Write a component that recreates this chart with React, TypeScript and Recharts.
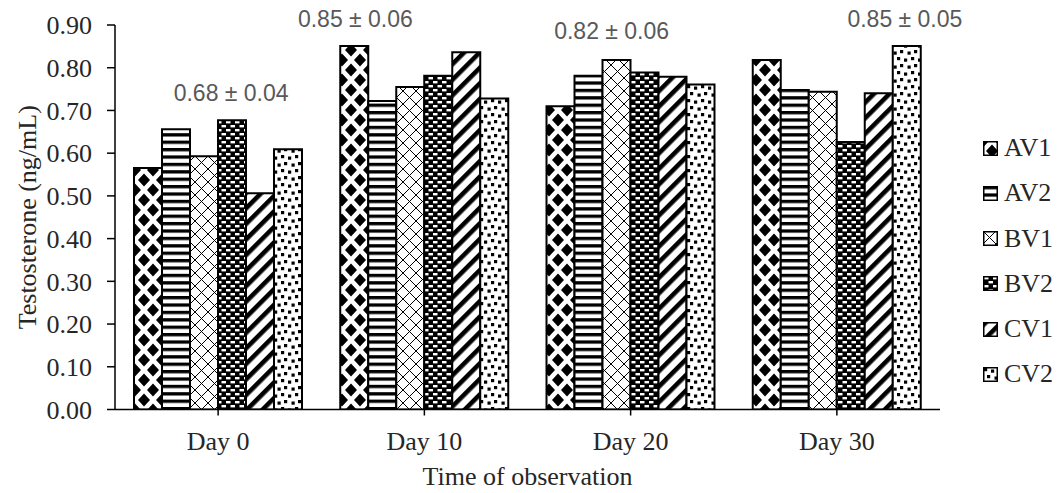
import React from 'react';
import { BarChart, Bar, XAxis, YAxis, Legend, ReferenceDot, Label } from 'recharts';

// ---------- data ----------
const categories = ['Day 0', 'Day 10', 'Day 20', 'Day 30'];
const seriesNames = ['AV1', 'AV2', 'BV1', 'BV2', 'CV1', 'CV2'];
const av1 = [0.565, 0.851, 0.71, 0.818];
const av2 = [0.656, 0.722, 0.781, 0.748];
const bv1 = [0.593, 0.755, 0.818, 0.744];
const bv2 = [0.677, 0.781, 0.789, 0.626];
const cv1 = [0.506, 0.836, 0.779, 0.74];
const cv2 = [0.609, 0.728, 0.761, 0.851];
const annotationTexts = ['0.68 ± 0.04', '0.85 ± 0.06', '0.82 ± 0.06', '0.85 ± 0.05'];
const annotationLevels = [0.741, 0.915, 0.886, 0.915];
const yTicks = [0, 0.1, 0.2, 0.3, 0.4, 0.5, 0.6, 0.7, 0.8, 0.9];
const xTitle = 'Time of observation';
const yTitle = 'Testosterone (ng/mL)';

const seriesValues = [av1, av2, bv1, bv2, cv1, cv2];
const data = categories.map((day, i) => {
  const row: Record<string, string | number> = { day };
  seriesNames.forEach((n, s) => {
    row[n] = seriesValues[s][i];
  });
  return row;
});

// ---------- styles ----------
const SERIF = "'Liberation Serif', 'Times New Roman', serif";
const SANS = "'Liberation Sans', Arial, sans-serif";
const TEXT = '#262626';
const patternIds = ['p-av1', 'p-av2', 'p-bv1', 'p-bv2', 'p-cv1', 'p-cv2'];
const annotationDx = [13, -69, -19, 68];

const Patterns = () => (
  <defs>
    <pattern id="p-av1" patternUnits="userSpaceOnUse" width={18} height={20}>
      <rect width={18} height={20} fill="#fff" />
      <path
        d="M9,3.5 L15,10 L9,16.5 L3,10 Z M0,-6.5 L6,0 L0,6.5 L-6,0 Z M18,-6.5 L24,0 L18,6.5 L12,0 Z M0,13.5 L6,20 L0,26.5 L-6,20 Z M18,13.5 L24,20 L18,26.5 L12,20 Z"
        fill="#000"
      />
    </pattern>
    <pattern id="p-av2" patternUnits="userSpaceOnUse" width={10} height={7.4}>
      <rect width={10} height={7.4} fill="#fff" />
      <rect y={0} width={10} height={3.3} fill="#000" />
    </pattern>
    <pattern id="p-bv1" patternUnits="userSpaceOnUse" width={13} height={13}>
      <rect width={13} height={13} fill="#fff" />
      <path d="M0,0 L13,13 M13,0 L0,13" stroke="#000" strokeWidth={1} />
    </pattern>
    <pattern id="p-bv2" patternUnits="userSpaceOnUse" width={9} height={8}>
      <rect width={9} height={8} fill="#000" />
      <rect x={1} y={1} width={4.5} height={2.4} fill="#fff" />
      <rect x={5.5} y={5} width={4.5} height={2.4} fill="#fff" />
      <rect x={-3.5} y={5} width={4.5} height={2.4} fill="#fff" />
    </pattern>
    <pattern id="p-cv1" patternUnits="userSpaceOnUse" width={11} height={11} patternTransform="rotate(45)">
      <rect width={11} height={11} fill="#fff" />
      <rect x={0} width={4.6} height={11} fill="#000" />
    </pattern>
    <pattern id="p-cv2" patternUnits="userSpaceOnUse" width={14} height={14}>
      <rect width={14} height={14} fill="#fff" />
      <rect x={1} y={1} width={3.2} height={3.2} fill="#000" />
      <rect x={8} y={2.5} width={3.2} height={3.2} fill="#000" />
      <rect x={4} y={8} width={3.2} height={3.2} fill="#000" />
      <rect x={11.5} y={9.5} width={3.2} height={3.2} fill="#000" />
      <rect x={-2.5} y={9.5} width={3.2} height={3.2} fill="#000" />
    </pattern>
  </defs>
);

const renderLegend = () => (
  <div style={{ fontFamily: SERIF, fontSize: 26, color: TEXT }}>
    {seriesNames.map((n, i) => (
      <div key={n} style={{ height: 45.25, display: 'flex', alignItems: 'center' }}>
        <svg width={15} height={15} style={{ marginRight: 6, flex: 'none' }}>
          <rect x={0.75} y={0.75} width={13.5} height={13.5} fill={`url(#${patternIds[i]})`} stroke="#000" strokeWidth={1.5} />
        </svg>
        <span style={{ lineHeight: 1 }}>{n}</span>
      </div>
    ))}
  </div>
);

const YTitle = (props: any) => {
  const vb = props.viewBox || { x: 0, y: 25, width: 115, height: 384.5 };
  const cx = vb.x + 27;
  const cy = vb.y + vb.height / 2;
  return (
    <text
      x={cx}
      y={cy}
      transform={`rotate(-90, ${cx}, ${cy})`}
      textAnchor="middle"
      dominantBaseline="central"
      fontFamily={SERIF}
      fontSize={26}
      fill={TEXT}
    >
      {yTitle}
    </text>
  );
};

const XTitle = (props: any) => {
  const vb = props.viewBox || { x: 115, y: 409.5, width: 825, height: 83.5 };
  return (
    <text
      x={vb.x + vb.width / 2}
      y={vb.y + 75.5}
      textAnchor="middle"
      fontFamily={SERIF}
      fontSize={26}
      fill={TEXT}
    >
      {xTitle}
    </text>
  );
};

export default function App() {
  return (
    <div style={{ position: 'absolute', left: 0, top: 0, width: 1060, height: 493, background: '#fff' }}>
      <BarChart
        width={1060}
        height={493}
        data={data}
        margin={{ top: 25, right: 120, left: 0, bottom: 0 }}
        barCategoryGap={19}
        barGap={0}
      >
        <Patterns />
        <XAxis
          dataKey="day"
          height={83.5}
          tickSize={6}
          tickMargin={16.5}
          tick={{ fontFamily: SERIF, fontSize: 26, fill: TEXT }}
          axisLine={{ stroke: '#000', strokeWidth: 1.5 }}
          tickLine={{ stroke: '#000', strokeWidth: 1.5 }}
        >
          <Label content={<XTitle />} />
        </XAxis>
        <YAxis
          type="number"
          domain={[0, 0.9]}
          ticks={yTicks}
          interval={0}
          allowDataOverflow
          width={115}
          tickSize={8}
          tickMargin={15}
          tickFormatter={(v: number) => v.toFixed(2)}
          tick={{ fontFamily: SERIF, fontSize: 26, fill: TEXT }}
          axisLine={{ stroke: '#000', strokeWidth: 1.5 }}
          tickLine={{ stroke: '#000', strokeWidth: 1.5 }}
        >
          <Label content={<YTitle />} />
        </YAxis>
        <Legend
          layout="vertical"
          align="center"
          verticalAlign="middle"
          content={renderLegend}
          wrapperStyle={{ left: 983, top: 125.4, width: 77, height: 272 }}
        />
        {seriesNames.map((n, i) => (
          <Bar
            key={n}
            dataKey={n}
            fill={`url(#${patternIds[i]})`}
            stroke="#000"
            strokeWidth={2}
            isAnimationActive={false}
          />
        ))}
        {categories.map((c, i) => (
          <ReferenceDot
            key={c}
            x={c}
            y={annotationLevels[i]}
            r={0}
            ifOverflow="visible"
            shape={(p: any) => (
              <text
                x={p.cx + annotationDx[i]}
                y={p.cy}
                textAnchor="middle"
                dominantBaseline="central"
                fontFamily={SANS}
                fontSize={23}
                fill="#595959"
              >
                {annotationTexts[i]}
              </text>
            )}
          />
        ))}
      </BarChart>
    </div>
  );
}
